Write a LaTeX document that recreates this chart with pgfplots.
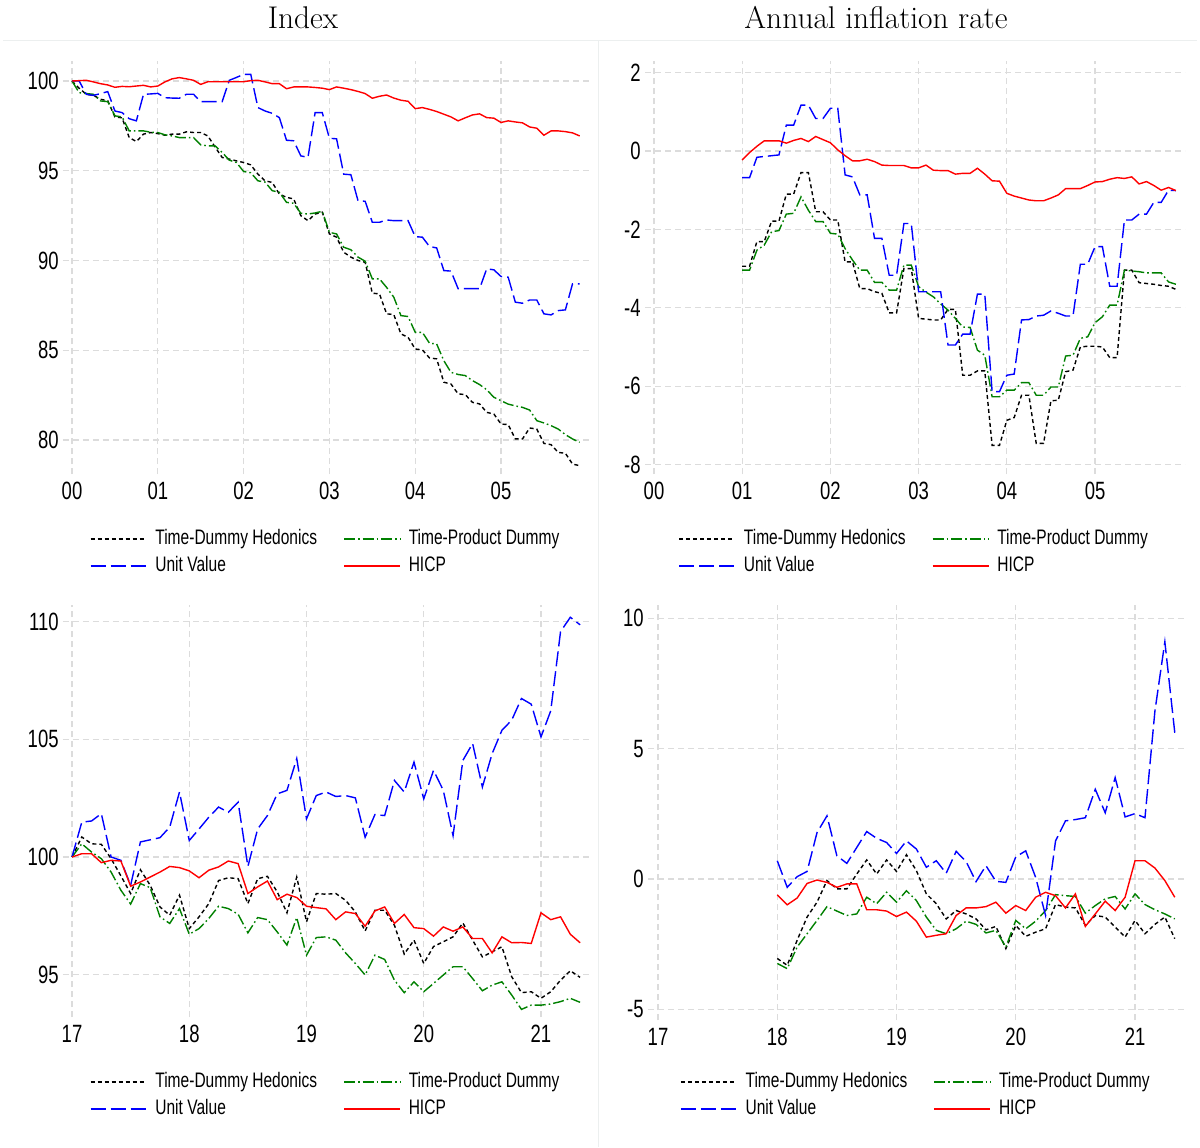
\documentclass[border=0pt]{standalone}
\usepackage{pgfplots}
\usepackage{pgfplotstable}
\pgfplotsset{compat=1.18}
\usepackage{fontspec}
\newfontfamily\narrowfont[FakeStretch=0.74]{Liberation Sans}
\newcommand\ticklabelfont{\narrowfont\fontsize{12.5}{14}\selectfont}
\newcommand\legendfont{\narrowfont\fontsize{10.5}{12}\selectfont}
\definecolor{mygreen}{RGB}{0,128,0}
\definecolor{gridgray}{RGB}{220,220,220}
\definecolor{sepgray}{RGB}{236,239,239}

\pgfplotstableread{
m tdh tpd uv hicp
0 100 100 100 100
1 99.6 99.35 100 100.02
2 99.26 99.3 99.26 100.04
3 99.2 99.26 99.2 99.95
4 98.98 98.89 99.3 99.85
5 98.9 98.85 99.41 99.78
6 98.0 98.06 98.33 99.65
7 97.95 98.0 98.24 99.70
8 96.85 97.22 97.9 99.68
9 96.63 97.22 97.78 99.72
10 97.04 97.22 99.26 99.76
11 97.13 97.15 99.28 99.67
12 97.07 97.13 99.31 99.72
13 96.98 97.0 99.07 99.95
14 97.04 96.94 99.05 100.12
15 97.04 96.85 99.04 100.19
16 97.17 96.85 99.26 100.12
17 97.13 96.85 99.26 100.04
18 97.13 96.44 98.85 99.81
19 96.94 96.39 98.85 99.96
20 96.33 96.39 98.85 99.96
21 95.74 96.02 98.85 99.96
22 95.65 95.59 100.04 99.96
23 95.55 95.46 100.2 99.96
24 95.46 94.96 100.37 99.96
25 95.33 94.89 100.37 100.02
26 94.81 94.44 98.52 100.04
27 94.44 94.37 98.33 99.95
28 94.35 93.89 98.2 99.85
29 93.7 93.8 97.96 99.85
30 93.52 93.24 96.70 99.57
31 93.43 93.19 96.67 99.67
32 92.5 92.63 95.83 99.67
33 92.22 92.59 95.74 99.67
34 92.59 92.65 98.24 99.64
35 92.69 92.74 98.24 99.6
36 91.48 91.57 96.81 99.52
37 91.3 91.48 96.78 99.67
38 90.46 90.74 94.81 99.6
39 90.19 90.6 94.78 99.52
40 90.0 90.19 93.33 99.42
41 89.9 89.96 93.30 99.30
42 88.18 88.98 92.13 99.04
43 88.14 88.98 92.13 99.15
44 87.03 88.5 92.26 99.22
45 86.99 87.96 92.22 99.05
46 85.91 86.93 92.22 98.93
47 85.72 86.88 92.22 98.87
48 85.07 86.0 91.33 98.46
49 85.02 86.0 91.30 98.52
50 84.57 85.39 90.78 98.42
51 84.52 85.35 90.70 98.30
52 83.22 84.42 89.44 98.15
53 83.12 83.77 89.41 98.0
54 82.57 83.65 88.43 97.78
55 82.53 83.59 88.43 97.95
56 82.1 83.31 88.43 98.11
57 82.01 83.09 88.43 98.17
58 81.54 82.8 89.54 97.96
59 81.45 82.38 89.48 97.93
60 80.89 82.19 89.11 97.69
61 80.86 82.0 89.07 97.78
62 80.06 81.9 87.68 97.72
63 80.06 81.82 87.62 97.67
64 80.67 81.67 87.8 97.44
65 80.61 81.08 87.8 97.37
66 79.81 80.95 87.03 96.98
67 79.74 80.8 86.97 97.22
68 79.31 80.61 87.21 97.22
69 79.26 80.3 87.25 97.18
70 78.66 80.06 88.70 97.11
71 78.57 79.87 88.70 96.94
}\tableTL

\pgfplotstableread{
m tdh tpd uv hicp
12 -2.94 -3.04 -0.68 -0.23
13 -2.94 -3.04 -0.68 -0.04
14 -2.31 -2.53 -0.16 0.12
15 -2.31 -2.40 -0.14 0.26
16 -1.79 -2.06 -0.12 0.26
17 -1.79 -2.03 -0.10 0.26
18 -1.10 -1.61 0.66 0.20
19 -1.10 -1.59 0.66 0.27
20 -0.55 -1.17 1.17 0.32
21 -0.55 -1.51 1.17 0.24
22 -1.55 -1.80 0.83 0.37
23 -1.55 -1.80 0.83 0.29
24 -1.76 -2.10 1.09 0.21
25 -1.76 -2.12 1.09 0.03
26 -2.83 -2.49 -0.61 -0.12
27 -2.83 -2.78 -0.66 -0.25
28 -3.51 -3.04 -1.12 -0.25
29 -3.51 -3.04 -1.12 -0.21
30 -3.59 -3.35 -2.23 -0.27
31 -3.63 -3.35 -2.23 -0.36
32 -4.13 -3.55 -3.17 -0.37
33 -4.13 -3.55 -3.17 -0.37
34 -3.00 -2.91 -1.85 -0.37
35 -3.00 -2.91 -1.85 -0.43
36 -4.27 -3.46 -3.59 -0.43
37 -4.29 -3.60 -3.59 -0.36
38 -4.31 -3.72 -3.59 -0.49
39 -4.31 -3.90 -3.59 -0.50
40 -4.04 -4.06 -4.95 -0.50
41 -4.04 -4.27 -4.95 -0.59
42 -5.72 -4.49 -4.67 -0.57
43 -5.72 -4.50 -4.67 -0.57
44 -5.61 -5.08 -3.65 -0.44
45 -5.61 -5.21 -3.65 -0.59
46 -7.51 -6.27 -6.14 -0.76
47 -7.51 -6.27 -6.14 -0.77
48 -6.87 -6.10 -5.72 -1.08
49 -6.80 -6.10 -5.69 -1.15
50 -6.23 -5.91 -4.31 -1.20
51 -6.23 -5.91 -4.30 -1.25
52 -7.46 -6.23 -4.21 -1.27
53 -7.46 -6.23 -4.19 -1.27
54 -6.37 -6.02 -4.08 -1.20
55 -6.36 -6.02 -4.14 -1.12
56 -5.63 -5.23 -4.21 -0.96
57 -5.59 -5.21 -4.21 -0.96
58 -5.00 -4.78 -2.89 -0.96
59 -4.98 -4.74 -2.89 -0.88
60 -4.98 -4.38 -2.44 -0.79
61 -5.00 -4.23 -2.44 -0.78
62 -5.27 -3.93 -3.45 -0.72
63 -5.27 -3.93 -3.45 -0.68
64 -3.04 -3.04 -1.76 -0.70
65 -3.04 -3.06 -1.76 -0.66
66 -3.36 -3.08 -1.61 -0.84
67 -3.38 -3.11 -1.61 -0.78
68 -3.40 -3.11 -1.31 -0.88
69 -3.43 -3.11 -1.31 -1.00
70 -3.45 -3.34 -1.00 -0.93
71 -3.53 -3.40 -1.01 -1.01
}\tableTR

\pgfplotstableread{
m tdh tpd uv hicp
0 100 100 100 100
1 100.85 100.56 101.48 100.14
2 100.56 100.21 101.53 100.14
3 100.54 99.93 101.84 99.76
4 99.93 99.36 100.0 99.86
5 99.2 98.59 99.86 99.83
6 98.45 98.0 98.8 98.76
7 99.46 98.87 100.64 98.94
8 98.8 98.7 100.73 99.15
9 97.88 97.46 100.82 99.36
10 97.53 97.18 101.27 99.6
11 98.38 97.81 102.76 99.55
12 96.96 96.72 100.7 99.41
13 97.46 96.96 101.19 99.12
14 98.02 97.39 101.69 99.44
15 99.0 97.91 102.12 99.58
16 99.12 97.81 101.9 99.83
17 99.08 97.57 102.33 99.72
18 98.02 96.78 99.6 98.45
19 99.08 97.43 101.19 98.73
20 99.18 97.34 101.76 98.98
21 98.52 96.82 102.68 98.19
22 97.63 96.26 102.83 98.42
23 99.15 97.43 104.18 98.28
24 97.25 95.83 101.62 97.91
25 98.45 96.58 102.61 97.85
26 98.42 96.61 102.76 97.8
27 98.45 96.47 102.57 97.34
28 98.16 95.93 102.61 97.67
29 97.67 95.48 102.51 97.6
30 96.86 94.99 100.84 97.06
31 97.74 95.83 101.8 97.71
32 97.74 95.65 101.76 97.88
33 97.1 94.77 103.25 97.18
34 95.88 94.24 102.76 97.56
35 96.47 94.7 104.03 97.0
36 95.48 94.28 102.47 96.96
37 96.2 94.63 103.68 96.64
38 96.4 94.99 102.83 97.03
39 96.61 95.34 100.91 96.85
40 97.2 95.34 104.1 97.03
41 96.47 94.84 104.82 96.54
42 95.76 94.32 102.97 96.54
43 95.97 94.56 104.39 95.93
44 96.19 94.7 105.38 96.61
45 94.92 94.14 105.81 96.36
46 94.24 93.53 106.73 96.37
47 94.28 93.71 106.49 96.33
48 94.0 93.71 105.1 97.63
49 94.28 93.76 106.21 97.34
50 94.77 93.86 109.57 97.46
51 95.17 94.0 110.18 96.72
52 94.89 93.83 109.86 96.36
}\tableBL

\pgfplotstableread{
m tdh tpd uv hicp
12 -3.05 -3.24 0.70 -0.61
13 -3.31 -3.44 -0.32 -0.99
14 -2.35 -2.61 0.09 -0.73
15 -1.46 -2.10 0.29 -0.17
16 -0.89 -1.59 1.78 -0.04
17 -0.06 -1.06 2.42 -0.13
18 -0.38 -1.23 0.89 -0.32
19 -0.38 -1.40 0.60 -0.19
20 0.19 -1.34 1.21 -0.19
21 0.73 -0.70 1.82 -1.18
22 0.19 -0.95 1.56 -1.18
23 0.73 -0.51 1.40 -1.23
24 0.29 -0.89 0.98 -1.44
25 0.93 -0.45 1.46 -1.27
26 0.32 -0.83 1.15 -1.62
27 -0.57 -1.46 0.45 -2.23
28 -0.95 -1.97 0.70 -2.16
29 -1.53 -2.10 0.22 -2.10
30 -1.21 -1.91 1.06 -1.40
31 -1.34 -1.62 0.67 -1.11
32 -1.53 -1.74 -0.10 -1.11
33 -1.95 -2.07 0.51 -1.06
34 -1.82 -1.97 -0.09 -0.89
35 -2.67 -2.61 -0.13 -1.31
36 -1.78 -1.59 0.85 -1.02
37 -2.20 -1.91 1.08 -1.21
38 -2.04 -1.62 0.06 -0.70
39 -1.91 -1.21 -1.40 -0.51
40 -0.98 -0.60 1.46 -0.64
41 -1.08 -0.64 2.23 -1.11
42 -1.11 -0.67 2.28 -0.57
43 -1.78 -1.31 2.35 -1.82
44 -1.40 -1.02 3.44 -1.34
45 -1.46 -0.76 2.54 -0.85
46 -1.84 -0.67 3.89 -1.21
47 -2.23 -1.15 2.38 -0.70
48 -1.59 -0.57 2.51 0.70
49 -2.10 -0.98 2.35 0.70
50 -1.74 -1.18 6.44 0.42
51 -1.46 -1.34 9.10 -0.06
52 -2.29 -1.53 5.61 -0.70
}\tableBR

\pgfplotsset{
  panel/.style={
    scale only axis,
    axis line style={draw=none},
    major tick length=0pt,
    grid=major,
    major grid style={gridgray, line width=0.6pt, dash pattern=on 3pt off 2pt},
    ticklabel style={font=\ticklabelfont},
    xticklabel style={inner sep=0pt, anchor=north, yshift=-4pt},
    yticklabel style={inner sep=0pt, anchor=east, xshift=-2pt},
    legend columns=2,
    legend cell align=left,
    legend image code/.code={\draw[##1] (0pt,0pt) -- (28pt,0pt);},
    legend style={draw=none, fill=none, inner sep=0pt, outer sep=0pt,
      font=\legendfont, row sep=3.5pt,
      nodes={inner sep=0pt, text height=7.8pt, text depth=2.2pt},
      /tikz/every odd column/.append style={column sep=4pt}},
  },
  tdh/.style={black, line width=0.7pt, dash pattern=on 2pt off 1.5pt},
  tpd/.style={mygreen, line width=0.7pt, dash pattern=on 5.5pt off 1.5pt on 0.8pt off 1.5pt},
  uv/.style={blue, line width=0.7pt, dash pattern=on 7.5pt off 2.5pt},
  hicp/.style={red, line width=0.7pt},
}
\newcommand\colA[1]{\makebox[94pt][l]{#1}}

\begin{document}
\begin{tikzpicture}
\path[use as bounding box] (0,0) rectangle (600pt,-573.5pt);
\draw[sepgray, line width=0.6pt] (1.5pt,-20.25pt) -- (598.5pt,-20.25pt);
\draw[sepgray, line width=0.6pt] (299.25pt,-20.25pt) -- (299.25pt,-573.5pt);
\node[anchor=base, font=\fontsize{15.7}{18}\selectfont] at (151.5pt,-14.15pt) {Index};
\node[anchor=base, font=\fontsize{15.7}{18}\selectfont] at (438pt,-14.15pt) {Annual inflation rate};

% Top left
\begin{axis}[panel, at={(31.5pt,-237pt)}, anchor=south west,
  width=263.5pt, height=206.5pt,
  xmin=-0.105, xmax=6.037, ymin=78.106, ymax=101.114,
  xtick={0,1,2,3,4,5}, xticklabels={00,01,02,03,04,05},
  ytick={80,85,90,95,100}, yticklabels={80,85,90,95,100},
  legend style={at={(0.0512,-0.133)}, anchor=north west}]
\addplot[tdh] table[x expr=\thisrow{m}/12, y=tdh] {\tableTL};
\addlegendentry{\colA{Time-Dummy Hedonics}}
\addplot[tpd] table[x expr=\thisrow{m}/12, y=tpd] {\tableTL};
\addlegendentry{Time-Product Dummy}
\addplot[uv] table[x expr=\thisrow{m}/12, y=uv] {\tableTL};
\addlegendentry{\colA{Unit Value}}
\addplot[hicp] table[x expr=\thisrow{m}/12, y=hicp] {\tableTL};
\addlegendentry{HICP}
\end{axis}

% Top right
\begin{axis}[panel, at={(322.5pt,-237pt)}, anchor=south west,
  width=270pt, height=206.5pt,
  xmin=-0.102, xmax=6.02, ymin=-8.24, ymax=2.296,
  xtick={0,1,2,3,4,5}, xticklabels={00,01,02,03,04,05},
  ytick={-8,-6,-4,-2,0,2}, yticklabels={-8,-6,-4,-2,0,2},
  legend style={at={(0.062,-0.133)}, anchor=north west}]
\addplot[tdh] table[x expr=\thisrow{m}/12, y=tdh] {\tableTR};
\addlegendentry{\colA{Time-Dummy Hedonics}}
\addplot[tpd] table[x expr=\thisrow{m}/12, y=tpd] {\tableTR};
\addlegendentry{Time-Product Dummy}
\addplot[uv] table[x expr=\thisrow{m}/12, y=uv] {\tableTR};
\addlegendentry{\colA{Unit Value}}
\addplot[hicp] table[x expr=\thisrow{m}/12, y=hicp] {\tableTR};
\addlegendentry{HICP}
\end{axis}

% Bottom left
\begin{axis}[panel, at={(31.5pt,-508.5pt)}, anchor=south west,
  width=263.5pt, height=206pt,
  xmin=-0.077, xmax=4.418, ymin=93.206, ymax=110.70,
  xtick={0,1,2,3,4}, xticklabels={17,18,19,20,21},
  ytick={95,100,105,110}, yticklabels={95,100,105,110},
  legend style={at={(0.0512,-0.133)}, anchor=north west}]
\addplot[tdh] table[x expr=\thisrow{m}/12, y=tdh] {\tableBL};
\addlegendentry{\colA{Time-Dummy Hedonics}}
\addplot[tpd] table[x expr=\thisrow{m}/12, y=tpd] {\tableBL};
\addlegendentry{Time-Product Dummy}
\addplot[uv] table[x expr=\thisrow{m}/12, y=uv] {\tableBL};
\addlegendentry{\colA{Unit Value}}
\addplot[hicp] table[x expr=\thisrow{m}/12, y=hicp] {\tableBL};
\addlegendentry{HICP}
\end{axis}

% Bottom right
\begin{axis}[panel, at={(324pt,-510pt)}, anchor=south west,
  width=268.5pt, height=207.5pt,
  xmin=-0.084, xmax=4.419, ymin=-5.41, ymax=10.51,
  xtick={0,1,2,3,4}, xticklabels={17,18,19,20,21},
  ytick={-5,0,5,10}, yticklabels={-5,0,5,10},
  legend style={at={(0.06,-0.125)}, anchor=north west}]
\addplot[tdh] table[x expr=\thisrow{m}/12, y=tdh] {\tableBR};
\addlegendentry{\colA{Time-Dummy Hedonics}}
\addplot[tpd] table[x expr=\thisrow{m}/12, y=tpd] {\tableBR};
\addlegendentry{Time-Product Dummy}
\addplot[uv] table[x expr=\thisrow{m}/12, y=uv] {\tableBR};
\addlegendentry{\colA{Unit Value}}
\addplot[hicp] table[x expr=\thisrow{m}/12, y=hicp] {\tableBR};
\addlegendentry{HICP}
\end{axis}
\end{tikzpicture}
\end{document}
